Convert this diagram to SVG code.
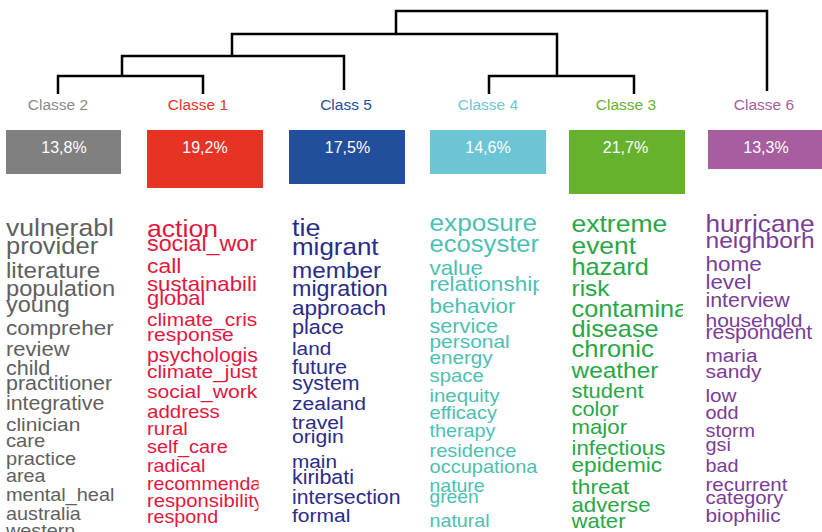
<svg xmlns="http://www.w3.org/2000/svg" width="822" height="532" viewBox="0 0 822 532">
<defs>
<style>
.lbl{font-family:"Liberation Sans",Arial,sans-serif;font-size:15.5px;text-anchor:middle}
.pct{font-family:"Liberation Sans",Arial,sans-serif;font-size:16px;fill:#fff;text-anchor:middle}
.w text{font-family:"Liberation Sans",Arial,Helvetica,sans-serif}
.edge{fill:none;stroke:#000;stroke-width:2.5}
.c2{fill:#606060}.c1{fill:#e3173e}.c5{fill:#2b2b8a}.c4{fill:#4dbfb2}.c3{fill:#28a745}.c6{fill:#7b3c96}
</style>
<clipPath id="clipc2"><rect x="0" y="200" width="118" height="332"/></clipPath>
<clipPath id="clipc1"><rect x="140" y="200" width="118.5" height="332"/></clipPath>
<clipPath id="clipc5"><rect x="280" y="200" width="140" height="332"/></clipPath>
<clipPath id="clipc4"><rect x="420" y="200" width="119" height="332"/></clipPath>
<clipPath id="clipc3"><rect x="560" y="200" width="123" height="332"/></clipPath>
<clipPath id="clipc6"><rect x="700" y="200" width="117" height="332"/></clipPath>
</defs>
<rect width="822" height="532" fill="#fff"/>

<g id="connectors">
<path class="edge" d="M58,94 V76 H203 V94"/>
<path class="edge" d="M122,76 V56 H344 V90"/>
<path class="edge" d="M232,56 V34 H557 V75"/>
<path class="edge" d="M489,94 V76 H634 V94"/>
<path class="edge" d="M396,34 V11 H767 V91"/>
</g>

<g id="classe-2">
<text class="lbl" x="58" y="110" fill="#8a8a8a">Classe 2</text>
<rect x="6" y="130" width="115" height="44" fill="#808080"/>
<text class="pct" x="64" y="153">13,8%</text>
<g clip-path="url(#clipc2)"><g class="w c2" transform="translate(6 0) scale(1.1 1)">
<text y="235.7" font-size="24.2">vulnerabl</text>
<text y="254.3" font-size="23.2">provider</text>
<text y="278.5" font-size="22">literature</text>
<text y="296" font-size="21.5">population</text>
<text y="312" font-size="21.3">young</text>
<text y="335.5" font-size="20.5">compreher</text>
<text y="356.5" font-size="20">review</text>
<text y="375" font-size="19.6">child</text>
<text y="390.5" font-size="19.5">practitioner</text>
<text y="410" font-size="19.4">integrative</text>
<text y="431" font-size="19">clinician</text>
<text y="447" font-size="18.4">care</text>
<text y="465" font-size="18.2">practice</text>
<text y="482.5" font-size="17.9">area</text>
<text y="501.5" font-size="18.1">mental_heal</text>
<text y="520" font-size="18">australia</text>
<text y="537" font-size="18">western</text>
</g></g>
</g>

<g id="classe-1">
<text class="lbl" x="198" y="110" fill="#e63323">Classe 1</text>
<rect x="147" y="130" width="116" height="58" fill="#e63323"/>
<text class="pct" x="205" y="153">19,2%</text>
<g clip-path="url(#clipc1)"><g class="w c1" transform="translate(147 0) scale(1.1 1)">
<text y="236.7" font-size="24.2">action</text>
<text y="251.5" font-size="21.2">social_wor</text>
<text y="273.3" font-size="20.8">call</text>
<text y="291" font-size="20.2">sustainabili</text>
<text y="305.5" font-size="19.9">global</text>
<text y="326" font-size="19">climate_cris</text>
<text y="341" font-size="19.2">response</text>
<text y="361.7" font-size="19.3">psychologis</text>
<text y="377.7" font-size="19">climate_just</text>
<text y="398.3" font-size="19.2">social_work</text>
<text y="418.3" font-size="18.6">address</text>
<text y="435" font-size="18.6">rural</text>
<text y="453.3" font-size="18.1">self_care</text>
<text y="471.7" font-size="18">radical</text>
<text y="490" font-size="17.8">recommenda</text>
<text y="506.7" font-size="18.4">responsibility</text>
<text y="523.3" font-size="17.9">respond</text>
</g></g>
</g>

<g id="class-5">
<text class="lbl" x="346" y="110" fill="#224f9c">Class 5</text>
<rect x="289" y="130" width="116" height="54" fill="#214f9c"/>
<text class="pct" x="347.5" y="153">17,5%</text>
<g clip-path="url(#clipc5)"><g class="w c5" transform="translate(292 0) scale(1.1 1)">
<text y="235.7" font-size="24.4">tie</text>
<text y="255" font-size="23.6">migrant</text>
<text y="278" font-size="22.1">member</text>
<text y="295.7" font-size="21.2">migration</text>
<text y="315" font-size="20.5">approach</text>
<text y="334.3" font-size="19.7">place</text>
<text y="355" font-size="18.9">land</text>
<text y="374" font-size="19.6">future</text>
<text y="390" font-size="19.4">system</text>
<text y="410" font-size="19.2">zealand</text>
<text y="429.5" font-size="19.2">travel</text>
<text y="443.3" font-size="19.2">origin</text>
<text y="468" font-size="18.9">main</text>
<text y="484.3" font-size="19.5">kiribati</text>
<text y="504.3" font-size="19.3">intersection</text>
<text y="521.7" font-size="19.1">formal</text>
</g></g>
</g>

<g id="classe-4">
<text class="lbl" x="488" y="110" fill="#6fc6d5">Classe 4</text>
<rect x="430" y="130" width="116" height="44" fill="#6cc5d4"/>
<text class="pct" x="488" y="153">14,6%</text>
<g clip-path="url(#clipc4)"><g class="w c4" transform="translate(429.5 0) scale(1.1 1)">
<text y="231" font-size="23.8">exposure</text>
<text y="251.7" font-size="23.3">ecosyster</text>
<text y="275" font-size="20.3">value</text>
<text y="291" font-size="20.5">relationship</text>
<text y="313.3" font-size="20.4">behavior</text>
<text y="332.7" font-size="19.7">service</text>
<text y="347.7" font-size="19">personal</text>
<text y="364.3" font-size="18.8">energy</text>
<text y="381.7" font-size="18.5">space</text>
<text y="401.7" font-size="18.5">inequity</text>
<text y="419" font-size="18.2">efficacy</text>
<text y="436.7" font-size="18">therapy</text>
<text y="456.7" font-size="18.2">residence</text>
<text y="473.3" font-size="18.2">occupationa</text>
<text y="492.3" font-size="17.7">nature</text>
<text y="503.3" font-size="17.5">green</text>
<text y="526.7" font-size="17.9">natural</text>
</g></g>
</g>

<g id="classe-3">
<text class="lbl" x="626" y="110" fill="#66b233">Classe 3</text>
<rect x="569" y="130" width="116" height="64" fill="#66b22f"/>
<text class="pct" x="625.5" y="153">21,7%</text>
<g clip-path="url(#clipc3)"><g class="w c3" transform="translate(571.5 0) scale(1.1 1)">
<text y="231.7" font-size="24.1">extreme</text>
<text y="253.8" font-size="24">event</text>
<text y="275.3" font-size="23">hazard</text>
<text y="296.2" font-size="22.2">risk</text>
<text y="316.7" font-size="23">contamina</text>
<text y="336.7" font-size="23">disease</text>
<text y="356.7" font-size="23.2">chronic</text>
<text y="378" font-size="22.2">weather</text>
<text y="397.7" font-size="20">student</text>
<text y="416" font-size="19.8">color</text>
<text y="434" font-size="20.2">major</text>
<text y="455.3" font-size="20.2">infectious</text>
<text y="471.7" font-size="20.6">epidemic</text>
<text y="493.8" font-size="20.6">threat</text>
<text y="512" font-size="20.2">adverse</text>
<text y="528.3" font-size="20.1">water</text>
</g></g>
</g>

<g id="classe-6">
<text class="lbl" x="764" y="110" fill="#a75da0">Classe 6</text>
<rect x="708" y="130" width="114" height="39" fill="#a65e9f"/>
<text class="pct" x="766" y="153">13,3%</text>
<g clip-path="url(#clipc6)"><g class="w c6" transform="translate(705.5 0) scale(1.1 1)">
<text y="231.7" font-size="23.8">hurricane</text>
<text y="248.3" font-size="22.3">neighborh</text>
<text y="271" font-size="20.5">home</text>
<text y="289" font-size="20.3">level</text>
<text y="306.7" font-size="19.4">interview</text>
<text y="326.7" font-size="19.1">household</text>
<text y="339" font-size="19.4">respondent</text>
<text y="361.7" font-size="18.9">maria</text>
<text y="378.3" font-size="19.1">sandy</text>
<text y="401.7" font-size="18.8">low</text>
<text y="419.5" font-size="18">odd</text>
<text y="436.7" font-size="18">storm</text>
<text y="451" font-size="18">gsi</text>
<text y="471.7" font-size="18">bad</text>
<text y="491" font-size="18.6">recurrent</text>
<text y="504.3" font-size="18.5">category</text>
<text y="521.7" font-size="18.9">biophilic</text>
</g></g>
</g>
</svg>
